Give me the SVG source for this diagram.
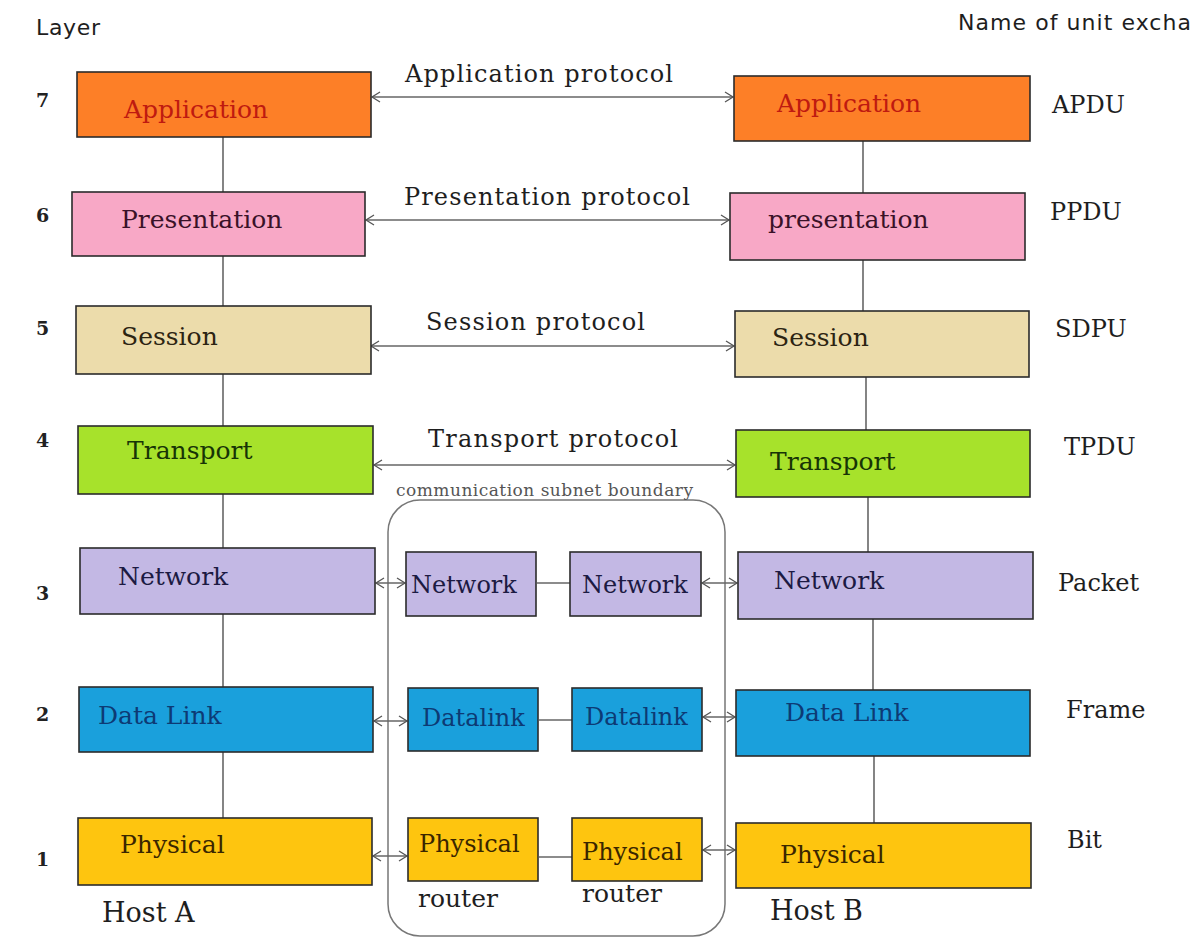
<svg xmlns="http://www.w3.org/2000/svg" width="1191" height="942" viewBox="0 0 1191 942">
  <defs>
    <marker id="chev" viewBox="-10 -6 12 12" markerWidth="12" markerHeight="12" refX="0" refY="0" orient="auto-start-reverse" markerUnits="userSpaceOnUse">
      <path d="M-8,-5 L0,0 L-8,5" fill="none" stroke="#555" stroke-width="1.3"/>
    </marker>
    <style>
      .box { stroke: #2b2b2b; stroke-width: 1.6; }
      .app { fill: #fd7f27; }
      .pres { fill: #f8a8c6; }
      .sess { fill: #ecdcab; }
      .trans { fill: #a7e22b; }
      .net { fill: #c3b8e4; }
      .dl { fill: #1aa0dc; }
      .phy { fill: #fec50f; }
      .lbl { font-family: "DejaVu Serif", "Liberation Serif", serif; font-size: 25px; }
      .mid { font-family: "DejaVu Serif", "Liberation Serif", serif; font-size: 24px; }
      .t-app { fill: #bf1a10; }
      .t-pres { fill: #3a1228; }
      .t-sess { fill: #2c2412; }
      .t-trans { fill: #173406; }
      .t-net { fill: #1c1a42; }
      .t-dl { fill: #0d3a74; }
      .t-phy { fill: #3a2600; }
      .side { font-family: "DejaVu Serif", "Liberation Serif", serif; font-size: 24px; fill: #1e1e1e; }
      .num { font-family: "DejaVu Serif", "Liberation Serif", serif; font-size: 19px; font-weight: bold; fill: #222; }
      .head { font-family: "DejaVu Sans", "Liberation Sans", sans-serif; font-size: 22px; fill: #1e1e1e; }
      .proto { font-family: "DejaVu Serif", "Liberation Serif", serif; font-size: 24px; fill: #1e1e1e; }
      .host { font-family: "DejaVu Serif", "Liberation Serif", serif; font-size: 27px; fill: #1e1e1e; }
      .rt { font-family: "DejaVu Serif", "Liberation Serif", serif; font-size: 25px; fill: #1e1e1e; }
      .link { stroke: #666; stroke-width: 1.6; fill: none; }
      .arrow { stroke: #666; stroke-width: 1.5; fill: none; marker-start: url(#chev); marker-end: url(#chev); }
    </style>
  </defs>
  <rect width="1191" height="942" fill="#ffffff"/>

  <!-- headings and layer numbers -->
  <g id="headings">
    <text class="head" x="36" y="35" textLength="64">Layer</text>
    <text class="head" x="958" y="30" textLength="233">Name of unit excha</text>
    <text class="num" x="36" y="107">7</text>
    <text class="num" x="36" y="222">6</text>
    <text class="num" x="36" y="335">5</text>
    <text class="num" x="36" y="447">4</text>
    <text class="num" x="36" y="600">3</text>
    <text class="num" x="36" y="721">2</text>
    <text class="num" x="36" y="866">1</text>
  </g>

  <!-- communication subnet boundary -->
  <g id="subnet">
    <rect x="388" y="500" width="337" height="436" rx="32" fill="none" stroke="#777" stroke-width="1.5"/>
    <text x="396" y="496" font-family="DejaVu Serif, Liberation Serif, serif" font-size="17" fill="#555" textLength="297">communication subnet boundary</text>
  </g>

  <!-- connectors -->
  <g id="connectors">
    <line class="link" x1="223" y1="137" x2="223" y2="818"/>
    <line class="link" x1="863" y1="141" x2="863" y2="311"/>
    <line class="link" x1="866" y1="377" x2="866" y2="430"/>
    <line class="link" x1="868" y1="497" x2="868" y2="552"/>
    <line class="link" x1="873" y1="619" x2="873" y2="690"/>
    <line class="link" x1="874" y1="756" x2="874" y2="823"/>

    <line class="arrow" x1="372" y1="97" x2="733" y2="97"/>
    <line class="arrow" x1="366" y1="220" x2="729" y2="220"/>
    <line class="arrow" x1="371" y1="346" x2="734" y2="346"/>
    <line class="arrow" x1="374" y1="465" x2="735" y2="465"/>

    <line class="arrow" x1="376" y1="583" x2="405" y2="583"/>
    <line class="link" x1="537" y1="583" x2="570" y2="583"/>
    <line class="arrow" x1="702" y1="583" x2="737" y2="583"/>

    <line class="arrow" x1="374" y1="721" x2="407" y2="721"/>
    <line class="link" x1="539" y1="720" x2="572" y2="720"/>
    <line class="arrow" x1="703" y1="717" x2="735" y2="717"/>

    <line class="arrow" x1="373" y1="856" x2="407" y2="856"/>
    <line class="link" x1="539" y1="857" x2="572" y2="857"/>
    <line class="arrow" x1="703" y1="850" x2="735" y2="850"/>
  </g>

  <!-- Host A stack -->
  <g id="a-application"><rect class="box app" x="77" y="72" width="294" height="65"/><text class="lbl t-app" x="124" y="118">Application</text></g>
  <g id="a-presentation"><rect class="box pres" x="72" y="192" width="293" height="64"/><text class="lbl t-pres" x="121" y="228">Presentation</text></g>
  <g id="a-session"><rect class="box sess" x="76" y="306" width="295" height="68"/><text class="lbl t-sess" x="121" y="345">Session</text></g>
  <g id="a-transport"><rect class="box trans" x="78" y="426" width="295" height="68"/><text class="lbl t-trans" x="127" y="459">Transport</text></g>
  <g id="a-network"><rect class="box net" x="80" y="548" width="295" height="66"/><text class="lbl t-net" x="118" y="585">Network</text></g>
  <g id="a-datalink"><rect class="box dl" x="79" y="687" width="294" height="65"/><text class="lbl t-dl" x="98" y="724">Data Link</text></g>
  <g id="a-physical"><rect class="box phy" x="78" y="818" width="294" height="67"/><text class="lbl t-phy" x="120" y="853">Physical</text></g>
  <g id="host-a"><text class="host" x="102" y="922">Host A</text></g>

  <!-- routers inside the subnet -->
  <g id="r1-network"><rect class="box net" x="406" y="552" width="130" height="64"/><text class="mid t-net" x="411" y="593">Network</text></g>
  <g id="r2-network"><rect class="box net" x="570" y="552" width="131" height="64"/><text class="mid t-net" x="582" y="593">Network</text></g>
  <g id="r1-datalink"><rect class="box dl" x="408" y="688" width="130" height="63"/><text class="mid t-dl" x="422" y="726">Datalink</text></g>
  <g id="r2-datalink"><rect class="box dl" x="572" y="688" width="130" height="63"/><text class="mid t-dl" x="585" y="725">Datalink</text></g>
  <g id="r1-physical"><rect class="box phy" x="408" y="818" width="130" height="63"/><text class="mid t-phy" x="419" y="852">Physical</text></g>
  <g id="r2-physical"><rect class="box phy" x="572" y="818" width="130" height="63"/><text class="mid t-phy" x="582" y="860">Physical</text></g>
  <g id="router-1"><text class="rt" x="418" y="907">router</text></g>
  <g id="router-2"><text class="rt" x="582" y="902">router</text></g>

  <!-- Host B stack -->
  <g id="b-application"><rect class="box app" x="734" y="76" width="296" height="65"/><text class="lbl t-app" x="777" y="112">Application</text></g>
  <g id="b-presentation"><rect class="box pres" x="730" y="193" width="295" height="67"/><text class="lbl t-pres" x="768" y="228">presentation</text></g>
  <g id="b-session"><rect class="box sess" x="735" y="311" width="294" height="66"/><text class="lbl t-sess" x="772" y="346">Session</text></g>
  <g id="b-transport"><rect class="box trans" x="736" y="430" width="294" height="67"/><text class="lbl t-trans" x="770" y="470">Transport</text></g>
  <g id="b-network"><rect class="box net" x="738" y="552" width="295" height="67"/><text class="lbl t-net" x="774" y="589">Network</text></g>
  <g id="b-datalink"><rect class="box dl" x="736" y="690" width="294" height="66"/><text class="lbl t-dl" x="785" y="721">Data Link</text></g>
  <g id="b-physical"><rect class="box phy" x="736" y="823" width="295" height="65"/><text class="lbl t-phy" x="780" y="863">Physical</text></g>
  <g id="host-b"><text class="host" x="770" y="920">Host B</text></g>

  <!-- protocol labels -->
  <g id="protocols">
    <text class="proto" x="405" y="82" textLength="268">Application protocol</text>
    <text class="proto" x="404" y="205" textLength="286">Presentation protocol</text>
    <text class="proto" x="426" y="330" textLength="219">Session protocol</text>
    <text class="proto" x="428" y="447" textLength="250">Transport protocol</text>
  </g>

  <!-- unit names -->
  <g id="units">
    <text class="side" x="1052" y="113">APDU</text>
    <text class="side" x="1050" y="220">PPDU</text>
    <text class="side" x="1055" y="337">SDPU</text>
    <text class="side" x="1064" y="455">TPDU</text>
    <text class="side" x="1058" y="591">Packet</text>
    <text class="side" x="1066" y="718">Frame</text>
    <text class="side" x="1067" y="848">Bit</text>
  </g>
</svg>
